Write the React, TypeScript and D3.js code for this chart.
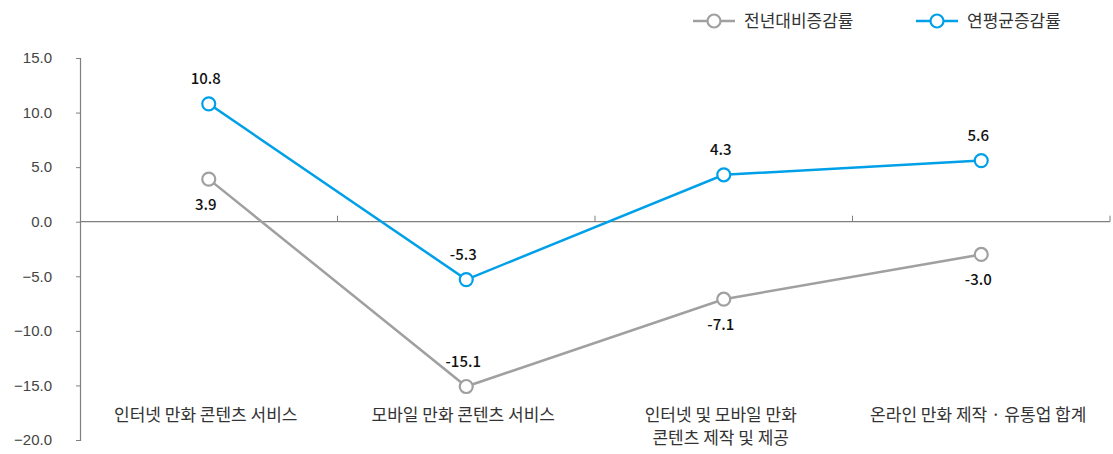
import { useEffect, useRef } from 'react';
import * as d3 from 'd3';

const categories = [
  ['인터넷 만화 콘텐츠 서비스'],
  ['모바일 만화 콘텐츠 서비스'],
  ['인터넷 및 모바일 만화', '콘텐츠 제작 및 제공'],
  ['온라인 만화 제작 · 유통업 합계'],
];
const yoyValues = [3.9, -15.1, -7.1, -3.0];
const cagrValues = [10.8, -5.3, 4.3, 5.6];
const yTicks = [15, 10, 5, 0, -5, -10, -15, -20];
const seriesNames = ['전년대비증감률', '연평균증감률'];

const svgWidth = 1113;
const svgHeight = 454;
const font = '"Noto Sans CJK KR", "Noto Sans", sans-serif';

function App() {
  const ref = useRef<SVGSVGElement>(null);

  useEffect(() => {
    const svg = d3.select(ref.current);
    svg.selectAll('*').remove();

    const left = 80;
    const right = 1110;

    const x = d3
      .scaleBand<number>()
      .domain(categories.map((_, i) => i))
      .range([left, right]);
    const y = d3.scaleLinear().domain([-20, 15]).range([440, 58]);

    // y axis
    const yAxis = svg
      .append('g')
      .attr('transform', `translate(${left}, 0)`)
      .call(
        d3
          .axisLeft(y)
          .tickValues(yTicks)
          .tickSize(4)
          .tickPadding(24)
          .tickFormat((d) => d3.format('.1f')(d as number).replace('-', '−'))
      );
    yAxis.select('.domain').attr('stroke', '#7f7f7f').attr('stroke-width', 1.2);
    yAxis.selectAll('.tick line').attr('stroke', '#7f7f7f');
    yAxis
      .selectAll('.tick text')
      .attr('font-family', '"Liberation Sans", Arial, sans-serif')
      .attr('font-size', 15)
      .attr('fill', '#444');

    // x axis at zero
    svg
      .append('line')
      .attr('x1', left)
      .attr('x2', right)
      .attr('y1', y(0))
      .attr('y2', y(0))
      .attr('stroke', '#7f7f7f')
      .attr('stroke-width', 1.2);
    svg
      .append('g')
      .selectAll('line')
      .data(categories.map((_, i) => i))
      .join('line')
      .attr('x1', (i) => (x(i) as number) + x.bandwidth())
      .attr('x2', (i) => (x(i) as number) + x.bandwidth())
      .attr('y1', y(0))
      .attr('y2', y(0) - 6)
      .attr('stroke', '#7f7f7f');

    // category labels
    const catText = svg
      .append('g')
      .selectAll('text')
      .data(categories)
      .join('text')
      .attr('font-family', font)
      .attr('font-size', 17)
      .attr('fill', '#333')
      .attr('text-anchor', 'middle');
    catText
      .selectAll('tspan')
      .data((d, i) => d.map((line) => ({ line, i })))
      .join('tspan')
      .attr('x', (d) => (x(d.i) as number) + x.bandwidth() / 2 - 3)
      .attr('y', (_, j) => 421 + j * 23)
      .text((d) => d.line);

    const series = [
      { values: yoyValues, color: '#a0a0a0', labelBelow: [true, false, true, true] },
      { values: cagrValues, color: '#00a0e9', labelBelow: [false, false, false, false] },
    ];

    const line = d3
      .line<number>()
      .x((_, i) => (x(i) as number) + x.bandwidth() / 2)
      .y((d) => y(d));

    series.forEach((s) => {
      svg
        .append('path')
        .attr('d', line(s.values))
        .attr('fill', 'none')
        .attr('stroke', s.color)
        .attr('stroke-width', 2.5);
      svg
        .append('g')
        .selectAll('circle')
        .data(s.values)
        .join('circle')
        .attr('cx', (_, i) => (x(i) as number) + x.bandwidth() / 2)
        .attr('cy', (d) => y(d))
        .attr('r', 6.5)
        .attr('fill', '#fff')
        .attr('stroke', s.color)
        .attr('stroke-width', 2.2);
      svg
        .append('g')
        .selectAll('text')
        .data(s.values)
        .join('text')
        .attr('x', (_, i) => (x(i) as number) + x.bandwidth() / 2 - 3)
        .attr('y', (d, i) => (s.labelBelow[i] ? y(d) + 31 : y(d) - 20))
        .attr('text-anchor', 'middle')
        .attr('font-family', font)
        .attr('font-size', 15)
        .attr('font-weight', 500)
        .attr('fill', '#111')
        .text((d) => d.toFixed(1));
    });

    // legend
    const legendItems = [
      { name: seriesNames[0], color: '#a0a0a0', x0: 693 },
      { name: seriesNames[1], color: '#00a0e9', x0: 916 },
    ];
    const legend = svg
      .append('g')
      .selectAll('g')
      .data(legendItems)
      .join('g')
      .attr('transform', (d) => `translate(${d.x0}, 21)`);
    legend
      .append('line')
      .attr('x1', 0)
      .attr('x2', 42)
      .attr('stroke', (d) => d.color)
      .attr('stroke-width', 2.5);
    legend
      .append('circle')
      .attr('cx', 21)
      .attr('r', 6.5)
      .attr('fill', '#fff')
      .attr('stroke', (d) => d.color)
      .attr('stroke-width', 2.2);
    legend
      .append('text')
      .attr('x', 51)
      .attr('y', 6)
      .attr('font-family', font)
      .attr('font-size', 17)
      .attr('fill', '#333')
      .text((d) => d.name);
  }, []);

  return (
    <svg
      ref={ref}
      width={svgWidth}
      height={svgHeight}
      style={{ position: 'absolute', left: 0, top: 0 }}
    ></svg>
  );
}

export default App;
